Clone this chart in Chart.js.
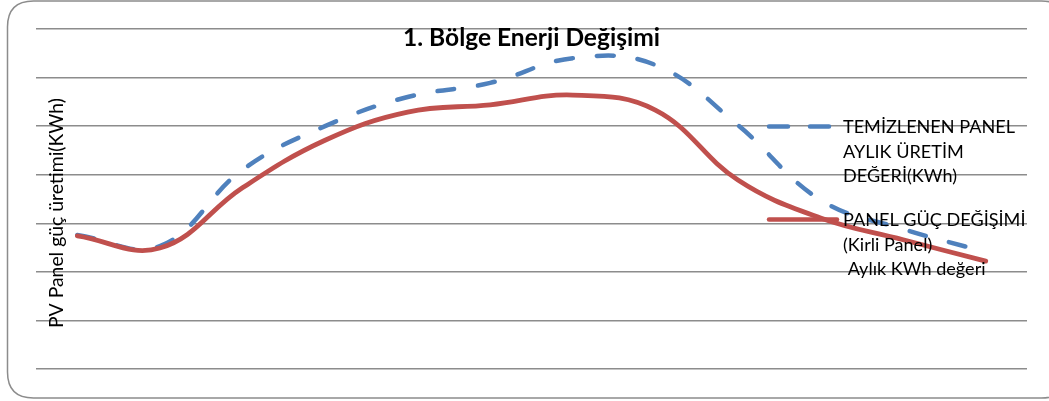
<!DOCTYPE html>
<html lang="tr">
<head>
    <meta charset="UTF-8">
    <title>1. Bölge Enerji Değişimi</title>
    <script src="https://cdn.jsdelivr.net/npm/chart.js"></script>
    <style>
        body { margin: 0; background: #fff; }
        canvas { display: block; }
    </style>
</head>
<body>
    <canvas id="enerjiChart" width="1049" height="401"></canvas>

    <script>
        // data (y values in arbitrary KWh units, 7 grid steps)
        var aylar = ['Ocak', 'Şubat', 'Mart', 'Nisan', 'Mayıs', 'Haziran', 'Temmuz', 'Ağustos', 'Eylül', 'Ekim', 'Kasım', 'Aralık'];
        var temizPanel = [276, 253, 410, 500, 560, 589, 640, 626, 502, 348, 288, 241];
        var kirliPanel = [274, 249, 373, 471, 529, 544, 564, 533, 389, 311, 266, 222];
        var yMax = 700;
        var yStep = 100;

        var baslik = '1. Bölge Enerji Değişimi';
        var yEksenBaslik = 'PV Panel güç üretimi(KWh)';
        var temizEtiket = ['TEMİZLENEN PANEL', 'AYLIK ÜRETİM', 'DEĞERİ(KWh)'];
        var kirliEtiket = ['PANEL GÜÇ DEĞİŞİMİ', '(Kirli Panel)', ' Aylık KWh değeri'];

        var mavi = '#4F81BD';
        var kirmizi = '#C0504D';
        var gri = '#8c8c8c';
        var yazi = 'Lato';

        // font size so that text gets a given pixel width
        function fitSize(ctx, text, weight, width) {
            ctx.font = weight + ' 20px "' + yazi + '"';
            return 20 * width / ctx.measureText(text).width;
        }

        function roundRect(ctx, x, y, w, h, r) {
            ctx.beginPath();
            ctx.moveTo(x + r, y);
            ctx.lineTo(x + w - r, y);
            ctx.quadraticCurveTo(x + w, y, x + w, y + r);
            ctx.lineTo(x + w, y + h - r);
            ctx.quadraticCurveTo(x + w, y + h, x + w - r, y + h);
            ctx.lineTo(x + r, y + h);
            ctx.quadraticCurveTo(x, y + h, x, y + h - r);
            ctx.lineTo(x, y + r);
            ctx.quadraticCurveTo(x, y, x + r, y);
            ctx.closePath();
        }

        // frame, title, axis title and the legend that sits inside the plot
        var decor = {
            id: 'decor',
            afterDraw: function(chart) {
                var ctx = chart.ctx;
                var area = chart.chartArea;
                ctx.save();

                ctx.strokeStyle = gri;
                ctx.lineWidth = 1.5;
                roundRect(ctx, 7.5, 1, 1060, 397, 26);
                ctx.stroke();

                ctx.fillStyle = '#000';
                ctx.textBaseline = 'alphabetic';

                // title
                var s = fitSize(ctx, baslik, 'bold', 257);
                ctx.font = 'bold ' + s + 'px "' + yazi + '"';
                ctx.textAlign = 'center';
                ctx.fillText(baslik, (area.left + area.right) / 2, 46);

                // y axis title
                s = fitSize(ctx, yEksenBaslik, 'normal', 230);
                ctx.font = s + 'px "' + yazi + '"';
                ctx.save();
                ctx.translate(63, 213);
                ctx.rotate(-Math.PI / 2);
                ctx.fillText(yEksenBaslik, 0, 0);
                ctx.restore();

                // legend
                s = fitSize(ctx, temizEtiket[0], 'normal', 172);
                ctx.font = s + 'px "' + yazi + '"';
                ctx.textAlign = 'left';
                var lh = 24.5;
                temizEtiket.forEach(function(t, i) {
                    ctx.fillText(t, 843, 133 + i * lh);
                });
                kirliEtiket.forEach(function(t, i) {
                    ctx.fillText(t, 843, 226 + i * lh);
                });

                ctx.lineWidth = 4.5;
                ctx.lineCap = 'round';
                ctx.strokeStyle = mavi;
                ctx.setLineDash([19, 22]);
                ctx.beginPath();
                ctx.moveTo(769, 126.5);
                ctx.lineTo(831, 126.5);
                ctx.stroke();

                ctx.setLineDash([]);
                ctx.strokeStyle = kirmizi;
                ctx.beginPath();
                ctx.moveTo(769, 219.5);
                ctx.lineTo(837, 219.5);
                ctx.stroke();

                ctx.restore();
            }
        };

        var ctx = document.getElementById('enerjiChart').getContext('2d');
        new Chart(ctx, {
            type: 'line',
            data: {
                labels: aylar,
                datasets: [{
                    label: temizEtiket.join(' '),
                    data: temizPanel,
                    borderColor: mavi,
                    borderWidth: 4.5,
                    borderDash: [17, 24],
                    borderCapStyle: 'round',
                    pointRadius: 0,
                    tension: 0.4,
                    fill: false,
                    order: 1
                }, {
                    label: kirliEtiket.join(' '),
                    data: kirliPanel,
                    borderColor: kirmizi,
                    borderWidth: 4.8,
                    borderCapStyle: 'round',
                    pointRadius: 0,
                    tension: 0.4,
                    fill: false,
                    order: 0
                }]
            },
            options: {
                responsive: false,
                animation: false,
                layout: {
                    padding: { left: 36, right: 22, top: 29, bottom: 32 }
                },
                plugins: {
                    legend: { display: false },
                    title: { display: false },
                    tooltip: { enabled: false }
                },
                scales: {
                    x: {
                        offset: true,
                        grid: { display: false },
                        border: { display: false },
                        ticks: { display: false },
                        afterFit: function(scale) { scale.height = 0; }
                    },
                    y: {
                        min: 0,
                        max: yMax,
                        ticks: { display: false, stepSize: yStep },
                        border: { display: false },
                        grid: { color: gri, lineWidth: 1.5, drawTicks: false },
                        afterFit: function(scale) { scale.width = 0; }
                    }
                }
            },
            plugins: [decor]
        });
    </script>
</body>
</html>
